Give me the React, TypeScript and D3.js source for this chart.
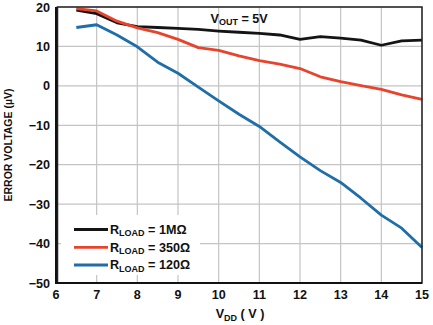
import React from "react";
import * as d3 from "d3";

const vdd = [6.5, 7, 7.5, 8, 8.5, 9, 9.5, 10, 10.5, 11, 11.5, 12, 12.5, 13, 13.5, 14, 14.5, 15];
const r1M = [19.2, 18.3, 16.0, 15.0, 14.8, 14.6, 14.3, 13.9, 13.6, 13.3, 12.9, 11.8, 12.5, 12.1, 11.6, 10.3, 11.4, 11.6];
const r350 = [19.6, 19.0, 16.4, 14.7, 13.5, 11.8, 9.7, 9.0, 7.6, 6.4, 5.5, 4.4, 2.3, 1.1, 0.05, -0.9, -2.3, -3.4];
const r120 = [14.8, 15.5, 12.9, 9.9, 6.0, 3.2, -0.3, -3.8, -7.2, -10.3, -14.2, -18.0, -21.5, -24.5, -28.5, -32.8, -36.1, -41.0];
const xTicks = [6, 7, 8, 9, 10, 11, 12, 13, 14, 15];
const yTicks = [20, 10, 0, -10, -20, -30, -40, -50];
const seriesNames = ["1MΩ", "350Ω", "120Ω"];
const seriesColors = ["#141414", "#e6452d", "#1f6ea8"];

export default function App() {
  const W = 433, H = 325;
  const left = 56, right = 422, top = 7, bottom = 283;
  const x = d3.scaleLinear().domain([6, 15]).range([left, right]);
  const y = d3.scaleLinear().domain([-50, 20]).range([bottom, top]);
  const line = d3.line<number>().x((_, i) => x(vdd[i])).y((d) => y(d));
  const series = [r1M, r350, r120];
  const font = "'Liberation Sans', Arial, sans-serif";
  const fmt = (v: number) => (v < 0 ? "\u2212" + Math.abs(v) : String(v));
  const legendY = [229.5, 247.3, 265];

  return (
    <svg width={W} height={H} style={{ position: "absolute", left: 0, top: 0, background: "#fff" }} fontFamily={font} fontWeight="bold">
      <rect x={0} y={0} width={W} height={H} fill="#fff" />
      {xTicks.map((t) => (
        <line key={"gx" + t} x1={x(t)} x2={x(t)} y1={top} y2={bottom} stroke="#c4c4c4" strokeWidth={1.2} />
      ))}
      {yTicks.map((t) => (
        <line key={"gy" + t} x1={left} x2={right} y1={y(t)} y2={y(t)} stroke="#c4c4c4" strokeWidth={1.2} />
      ))}
      {series.map((s, i) => (
        <path key={"s" + i} d={line(s) || ""} fill="none" stroke={seriesColors[i]} strokeWidth={2.8} strokeLinejoin="round" />
      ))}
      <rect x={left + 1.5} y={top} width={right - left - 1.5} height={bottom - top} fill="none" stroke="#222" strokeWidth={1.5} />
      <line x1={left} x2={left} y1={top} y2={bottom + 1} stroke="#111" strokeWidth={2} />
      <line x1={left} x2={right} y1={bottom} y2={bottom} stroke="#111" strokeWidth={2} />
      <rect x={61} y={215} width={139} height={60} fill="#fff" />
      {seriesNames.map((n, i) => (
        <g key={"l" + i}>
          <line x1={74} x2={108} y1={legendY[i]} y2={legendY[i]} stroke={seriesColors[i]} strokeWidth={2.8} />
          <text x={110} y={legendY[i] + 4.2} fontSize={12.6} fill="#111">
            R<tspan fontSize={9} dy={2.6}>LOAD</tspan>
            <tspan dy={-2.6}>{" = " + n}</tspan>
          </text>
        </g>
      ))}
      {yTicks.map((t) => (
        <text key={"ty" + t} x={50} y={y(t) + 4.5} fontSize={12.6} textAnchor="end" fill="#111">
          {fmt(t)}
        </text>
      ))}
      {xTicks.map((t) => (
        <text key={"tx" + t} x={x(t)} y={298.8} fontSize={12.6} textAnchor="middle" fill="#111">
          {t}
        </text>
      ))}
      <text x={240} y={318.3} fontSize={12.6} textAnchor="middle" fill="#111">
        V<tspan fontSize={9} dy={2.6}>DD</tspan>
        <tspan dy={-2.6}>{" ( V )"}</tspan>
      </text>
      <text x={210.5} y={22.8} fontSize={12.6} fill="#111">
        V<tspan fontSize={9} dy={2.6}>OUT</tspan>
        <tspan dy={-2.6}>{" = 5V"}</tspan>
      </text>
      <text transform={`translate(11.5,145) rotate(-90)`} fontSize={10.5} textAnchor="middle" fill="#111">
        ERROR VOLTAGE (µV)
      </text>
    </svg>
  );
}
